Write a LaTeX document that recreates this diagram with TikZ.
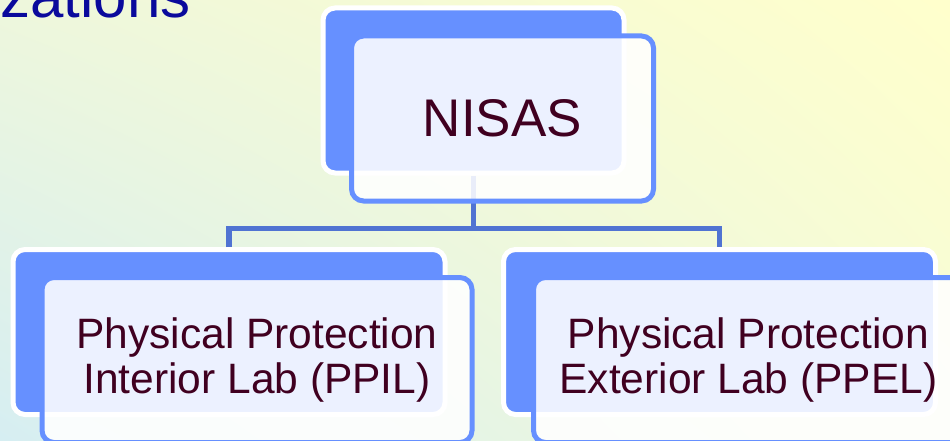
\documentclass[tikz,border=0pt]{standalone}
\usepackage{fontspec}
\setmainfont{Liberation Sans}
\usepackage{tikz}
\usetikzlibrary{positioning,shadings}
\definecolor{boxblue}{HTML}{6690FF}
\definecolor{linkblue}{HTML}{5073D2}
\definecolor{textmaroon}{HTML}{400020}
\definecolor{titleblue}{HTML}{0A0A9C}
\definecolor{bgcyan}{HTML}{D6EEF2}
\definecolor{bgyellow}{HTML}{FFFFCC}
\definecolor{bgupleft}{HTML}{EEF7DC}
\definecolor{bglowright}{HTML}{F5FBD8}

\begin{document}
\begin{tikzpicture}[
    x=1pt, y=1pt,
    every node/.style={font=\fontsize{42.5}{45}\selectfont, text=textmaroon},
    backbox/.style={rectangle, rounded corners=12pt, fill=boxblue, draw=white,
        line width=5pt, inner sep=0pt, minimum height=165pt},
    frontbox/.style={rectangle, rounded corners=12pt, fill=white, fill opacity=0.88,
        text opacity=1, draw=boxblue, line width=5pt, inner sep=0pt,
        minimum height=165pt, align=center},
    link/.style={draw=linkblue, line width=5.5pt}
]
    % === BACKGROUND ===
    \useasboundingbox (0,0) rectangle (950,440);
    \clip (0,0) rectangle (950,440);
    \shade[lower left=bgcyan, upper right=bgyellow, upper left=bgupleft, lower right=bglowright]
        (0,0) rectangle (950,440);

    % Title (cut off by the frame)
    \node[anchor=base east, font=\fontsize{60}{60}\selectfont, text=titleblue] (title) at (194,422) {zations};

    % === BACK BOXES ===
    \node[backbox, minimum width=301pt] (nisasback) at (473.5,349.5) {};
    \node[backbox, minimum width=432pt] (ppilback) at (229,108) {};
    \node[backbox, minimum width=432pt] (ppelback) at (719.5,108) {};

    % === CONNECTORS ===
    \draw[link] (nisasback.south) -- ++(0,-53) coordinate (hub);
    \draw[link] (ppilback.north) |- (hub) -| (ppelback.north);

    % === FRONT BOXES ===
    \node[frontbox, minimum width=302pt, font=\fontsize{53}{60}\selectfont]
        (nisas) at ([xshift=29pt, yshift=-28pt]nisasback.center) {NISAS};
    \node[frontbox, minimum width=430pt]
        (ppil) at ([xshift=28pt, yshift=-28pt]ppilback.center) {Physical Protection\\Interior Lab (PPIL)};
    \node[frontbox, minimum width=430pt]
        (ppel) at ([xshift=29pt, yshift=-28pt]ppelback.center) {Physical Protection\\Exterior Lab (PPEL)};
\end{tikzpicture}
\end{document}
